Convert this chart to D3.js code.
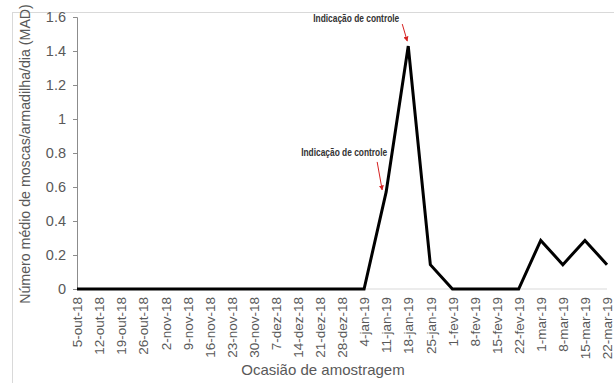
<!DOCTYPE html>
<html>
<head>
<meta charset="utf-8">
<script src="https://cdn.jsdelivr.net/npm/d3@7"></script>
<style>
  html, body { margin: 0; padding: 0; background: #fff; }
  svg { display: block; font-family: "Liberation Sans", Arial, sans-serif; }
</style>
</head>
<body>
<svg id="chart" width="614" height="383"></svg>
<script>
// Sampling dates (weekly)
const dates = [
  "5-out-18", "12-out-18", "19-out-18", "26-out-18", "2-nov-18", "9-nov-18",
  "16-nov-18", "23-nov-18", "30-nov-18", "7-dez-18", "14-dez-18", "21-dez-18",
  "28-dez-18", "4-jan-19", "11-jan-19", "18-jan-19", "25-jan-19", "1-fev-19",
  "8-fev-19", "15-fev-19", "22-fev-19", "1-mar-19", "8-mar-19", "15-mar-19",
  "22-mar-19"
];
// Mean flies per trap per day (MAD)
const mad = [
  0, 0, 0, 0, 0, 0,
  0, 0, 0, 0, 0, 0,
  0, 0, 0.571, 1.429, 0.143, 0,
  0, 0, 0, 0.286, 0.143, 0.286,
  0.143
];
const yTicks = [0, 0.2, 0.4, 0.6, 0.8, 1, 1.2, 1.4, 1.6];
// Control-recommendation notes, attached to sampling dates
const notes = [
  { date: "11-jan-19", text: "Indicação de controle" },
  { date: "18-jan-19", text: "Indicação de controle" }
];

const svg = d3.select("#chart");
const W = 614, H = 383;

// outer frame
svg.append("rect")
  .attr("x", 12.5).attr("y", 12.5)
  .attr("width", W).attr("height", H)
  .attr("fill", "none").attr("stroke", "#d9d9d9");

const plot = { left: 77, right: 607, top: 17, bottom: 289 };

const x = d3.scalePoint().domain(dates).range([plot.left, plot.right]);
const y = d3.scaleLinear().domain([0, 1.6]).range([plot.bottom, plot.top]);

// y axis
const yAxis = svg.append("g")
  .attr("transform", `translate(${plot.left},0)`)
  .call(d3.axisLeft(y).tickValues(yTicks).tickSize(4).tickPadding(7)
    .tickFormat(d => String(d)));
yAxis.select(".domain").attr("stroke", "#8c8c8c");
yAxis.selectAll(".tick line").attr("stroke", "#8c8c8c");
yAxis.selectAll(".tick text")
  .attr("fill", "#595959").attr("font-size", 14.5)
  .attr("font-family", "'Liberation Sans', Arial, sans-serif");

// x axis
const xAxis = svg.append("g")
  .attr("transform", `translate(0,${plot.bottom})`)
  .call(d3.axisBottom(x).tickSize(0).tickPadding(0));
xAxis.select(".domain").attr("stroke", "#d9d9d9").attr("d", `M${plot.left},0H${plot.right}`);
xAxis.selectAll(".tick text")
  .attr("fill", "#595959").attr("font-size", 13.5)
  .attr("font-family", "'Liberation Sans', Arial, sans-serif")
  .attr("transform", "rotate(-90)")
  .attr("text-anchor", "end")
  .attr("x", -8).attr("y", 0).attr("dy", "0.35em");

// series line
const line = d3.line()
  .x((d, i) => x(dates[i]))
  .y(d => y(d));
svg.append("path")
  .datum(mad)
  .attr("d", line)
  .attr("fill", "none")
  .attr("stroke", "#000")
  .attr("stroke-width", 3)
  .attr("stroke-linejoin", "miter");

// axis titles
svg.append("text")
  .attr("transform", `translate(30,${(plot.top + plot.bottom) / 2 + 1}) rotate(-90)`)
  .attr("text-anchor", "middle")
  .attr("fill", "#595959").attr("font-size", 14.2)
  .text("Número médio de moscas/armadilha/dia (MAD)");
svg.append("text")
  .attr("x", 323).attr("y", 375)
  .attr("text-anchor", "middle")
  .attr("fill", "#595959").attr("font-size", 15)
  .text("Ocasião de amostragem");

// annotation arrows
const defs = svg.append("defs");
defs.append("marker")
  .attr("id", "arrowhead")
  .attr("viewBox", "0 0 10 10")
  .attr("refX", 9).attr("refY", 5)
  .attr("markerWidth", 5).attr("markerHeight", 5)
  .attr("orient", "auto")
  .append("path").attr("d", "M0,0L10,5L0,10z").attr("fill", "#d62020");

// text / arrow offsets relative to the annotated point
const noteLayout = [
  { tx: -42, ty: -36, ax: -9, ay: -30, dx: 5, dy: 28 },
  { tx: -52, ty: -24, ax: -6, ay: -22, dx: 5, dy: 17 }
];
notes.forEach((n, i) => {
  const L = noteLayout[i];
  const px = x(n.date);
  const py = y(mad[dates.indexOf(n.date)]);
  svg.append("text")
    .attr("x", px + L.tx).attr("y", py + L.ty)
    .attr("text-anchor", "middle")
    .attr("fill", "#333").attr("font-size", 10)
    .attr("font-weight", "bold")
    .attr("textLength", 86).attr("lengthAdjust", "spacingAndGlyphs")
    .text(n.text);
  svg.append("line")
    .attr("x1", px + L.ax).attr("y1", py + L.ay)
    .attr("x2", px + L.ax + L.dx).attr("y2", py + L.ay + L.dy)
    .attr("stroke", "#d62020").attr("stroke-width", 1)
    .attr("marker-end", "url(#arrowhead)");
});
</script>
</body>
</html>
